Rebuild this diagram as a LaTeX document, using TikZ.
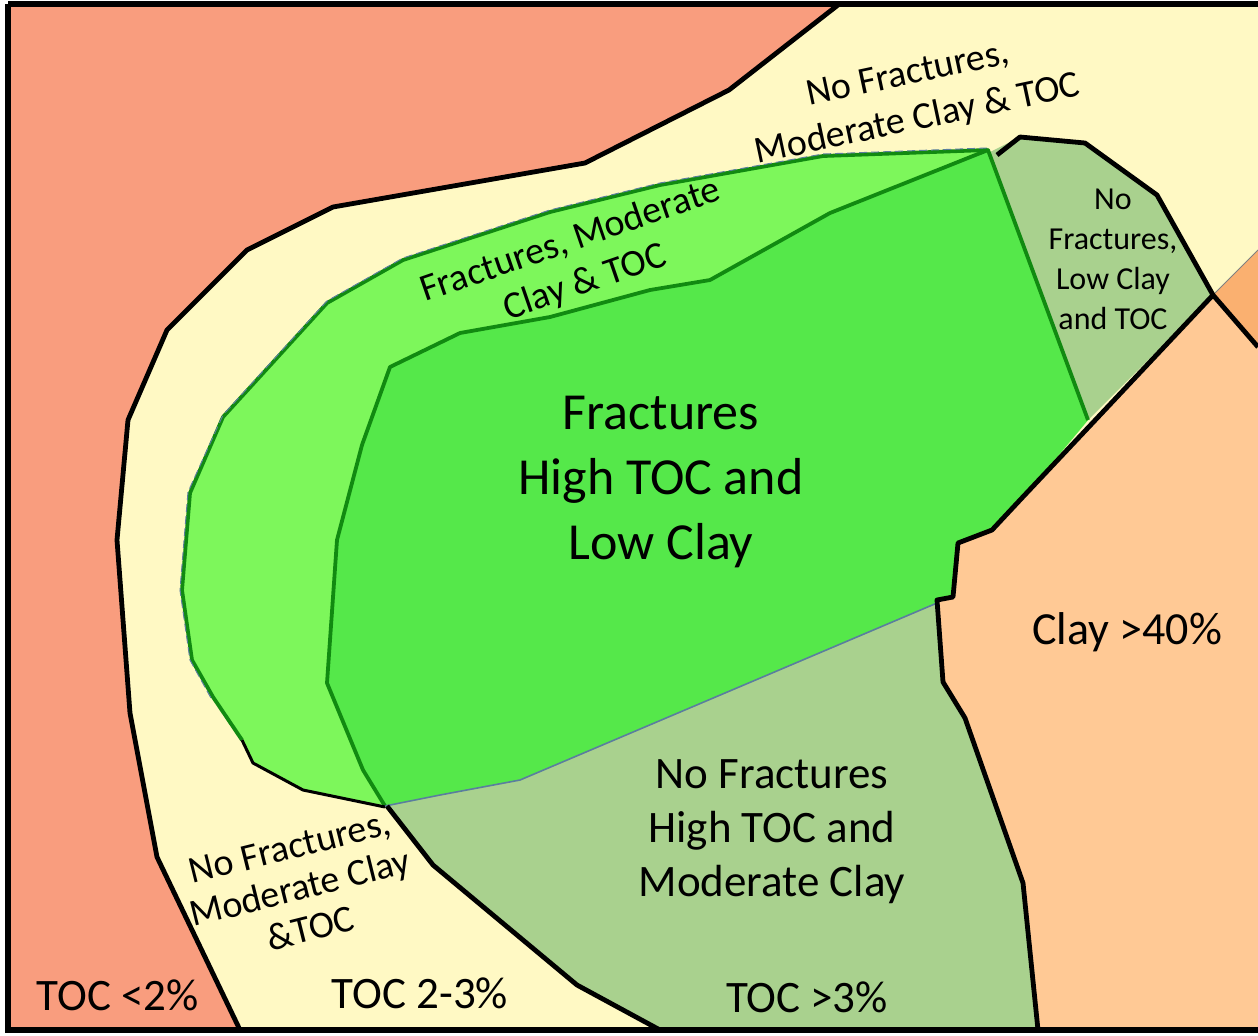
\documentclass[tikz,border=0pt]{standalone}
\usepackage{fontspec}
\setmainfont{Carlito}
\definecolor{toclow}{HTML}{F99D7E}
\definecolor{tocmid}{HTML}{FFF9C4}
\definecolor{fracmod}{HTML}{7DF75B}
\definecolor{frachigh}{HTML}{55E84A}
\definecolor{nofrac}{HTML}{A9D18E}
\definecolor{claylow}{HTML}{FFC995}
\definecolor{clayhigh}{HTML}{FAB070}
\definecolor{rimgreen}{HTML}{118A11}
\definecolor{rimblue}{HTML}{5A7E9E}

\begin{document}
\begin{tikzpicture}[
    x=0.5pt, y=-0.5pt,
    border/.style={line width=2.4pt, line join=round, draw=black},
    rim/.style={line width=1.9pt, line join=round, draw=rimgreen},
    lbl/.style={align=center, text=black, inner sep=0pt}
]
\useasboundingbox (0,0) rectangle (1258,1035);
\fill[white] (0,0) rectangle (1258,1035);

% zones
\fill[tocmid] (8,5) rectangle (1258,1030);
\fill[toclow] (8,5) -- (838,5) -- (729,90) -- (585,163) -- (333,207) -- (247,250) -- (167,330) -- (128,420) -- (117,540) -- (130,713) -- (157,857) -- (240,1030) -- (8,1030) -- cycle;
\fill[fracmod] (987,150) -- (823,156) -- (660,185) -- (550,212) -- (403,260) -- (327,303) -- (223,417) -- (190,493) -- (182,590) -- (192,660) -- (213,697) -- (242,740) -- (253,763) -- (303,790) -- (385,806) -- (520,780) -- (937,603) -- (1088,420) -- cycle;
\fill[frachigh] (988,150) -- (830,213) -- (710,280) -- (650,290) -- (550,317) -- (460,333) -- (390,367) -- (362,445) -- (337,540) -- (327,683) -- (363,770) -- (385,806) -- (440,795) -- (520,780) -- (937,603) -- (953,597) -- (958,543) -- (992,530) -- (1020,500) -- (1088,420) -- cycle;
\fill[nofrac] (990,152) -- (1020,137) -- (1085,143) -- (1157,195) -- (1213,295) -- (1088,420) -- cycle;
\fill[nofrac] (385,806) -- (440,795) -- (520,780) -- (937,603) -- (943,682) -- (965,718) -- (1023,883) -- (1038,1030) -- (660,1030) -- (577,985) -- (433,865) -- cycle;
\fill[claylow] (1213,295) -- (1258,347) -- (1258,1030) -- (1038,1030) -- (1023,883) -- (965,718) -- (943,682) -- (937,600) -- (953,597) -- (958,543) -- (992,530) -- (1020,500) -- cycle;
\fill[clayhigh] (1213,295) -- (1258,250) -- (1258,347) -- cycle;
\draw[gray, line width=0.5pt] (1213,295) -- (1258,250);

% green rims
\draw[rim] (987,150) -- (823,156) -- (660,185) -- (550,212) -- (403,260) -- (327,303) -- (223,417) -- (190,493) -- (182,590) -- (192,660) -- (213,697) -- (242,740);
\draw[rimblue, line width=0.5pt, dash pattern=on 4pt off 2pt] (987,148) -- (823,154) -- (660,183) -- (550,210) -- (403,258) -- (327,301) -- (223,415) -- (188,492) -- (180,590) -- (190,660) -- (211,698);
\draw[rim] (1088,420) -- (988,150) -- (830,213) -- (710,280) -- (650,290) -- (550,317) -- (460,333) -- (390,367) -- (362,445) -- (337,540) -- (327,683) -- (363,770) -- (385,806);
\draw[rimblue, line width=0.8pt] (385,806) -- (440,795) -- (520,780) -- (937,603);

% black boundaries
\draw[border] (838,5) -- (729,90) -- (585,163) -- (333,207) -- (247,250) -- (167,330) -- (128,420) -- (117,540) -- (130,713) -- (157,857) -- (240,1030);
\draw[border] (997,155) -- (1020,137) -- (1085,143) -- (1157,195) -- (1213,295) -- (1258,347);
\draw[border] (1213,295) -- (1020,500) -- (992,530) -- (958,543) -- (953,597) -- (937,600) -- (943,682) -- (965,718) -- (1023,883) -- (1038,1030);
\draw[border] (387,806) -- (433,865) -- (577,985) -- (660,1030);
\draw[black, line width=1.5pt, line join=round] (242,740) -- (253,763) -- (303,790) -- (385,807);

% frame
\draw[line width=3pt] (1258,4) -- (8,4);
\draw[line width=2.6pt] (8,4) -- (8,1030) -- (1258,1030);

% labels
\node[lbl, font=\fontsize{26}{32.5}\selectfont] (core) at (661,482) {Fractures\\High TOC and\\Low Clay};
\node[lbl, font=\fontsize{22.5}{27}\selectfont] (nofrachigh) at (772,832) {No Fractures\\High TOC and\\Moderate Clay};
\node[lbl, font=\fontsize{23}{27}\selectfont] (claylbl) at (1127,632) {Clay >40\%};
\node[lbl, font=\fontsize{22.5}{27}\selectfont] (toclow) at (118,995) {TOC <2\%};
\node[lbl, font=\fontsize{22.5}{27}\selectfont] (tocmid) at (420,993) {TOC 2-3\%};
\node[lbl, font=\fontsize{22.5}{27}\selectfont] (tochigh) at (807,997) {TOC >3\%};
\node[lbl, font=\fontsize{19}{23}\selectfont, rotate=12] (nofractop) at (913,98) {No Fractures,\\Moderate Clay \& TOC};
\node[lbl, font=\fontsize{19}{22}\selectfont, rotate=19] (fracring) at (578,262) {Fractures, Moderate\\Clay \& TOC};
\node[lbl, font=\fontsize{19}{21}\selectfont, rotate=14] (nofracbot) at (300,888) {No Fractures,\\Moderate Clay\\\&TOC};
\node[lbl, font=\fontsize{16}{20}\selectfont] (nofraclow) at (1113,259) {No\\Fractures,\\Low Clay\\and TOC};
\end{tikzpicture}
\end{document}
